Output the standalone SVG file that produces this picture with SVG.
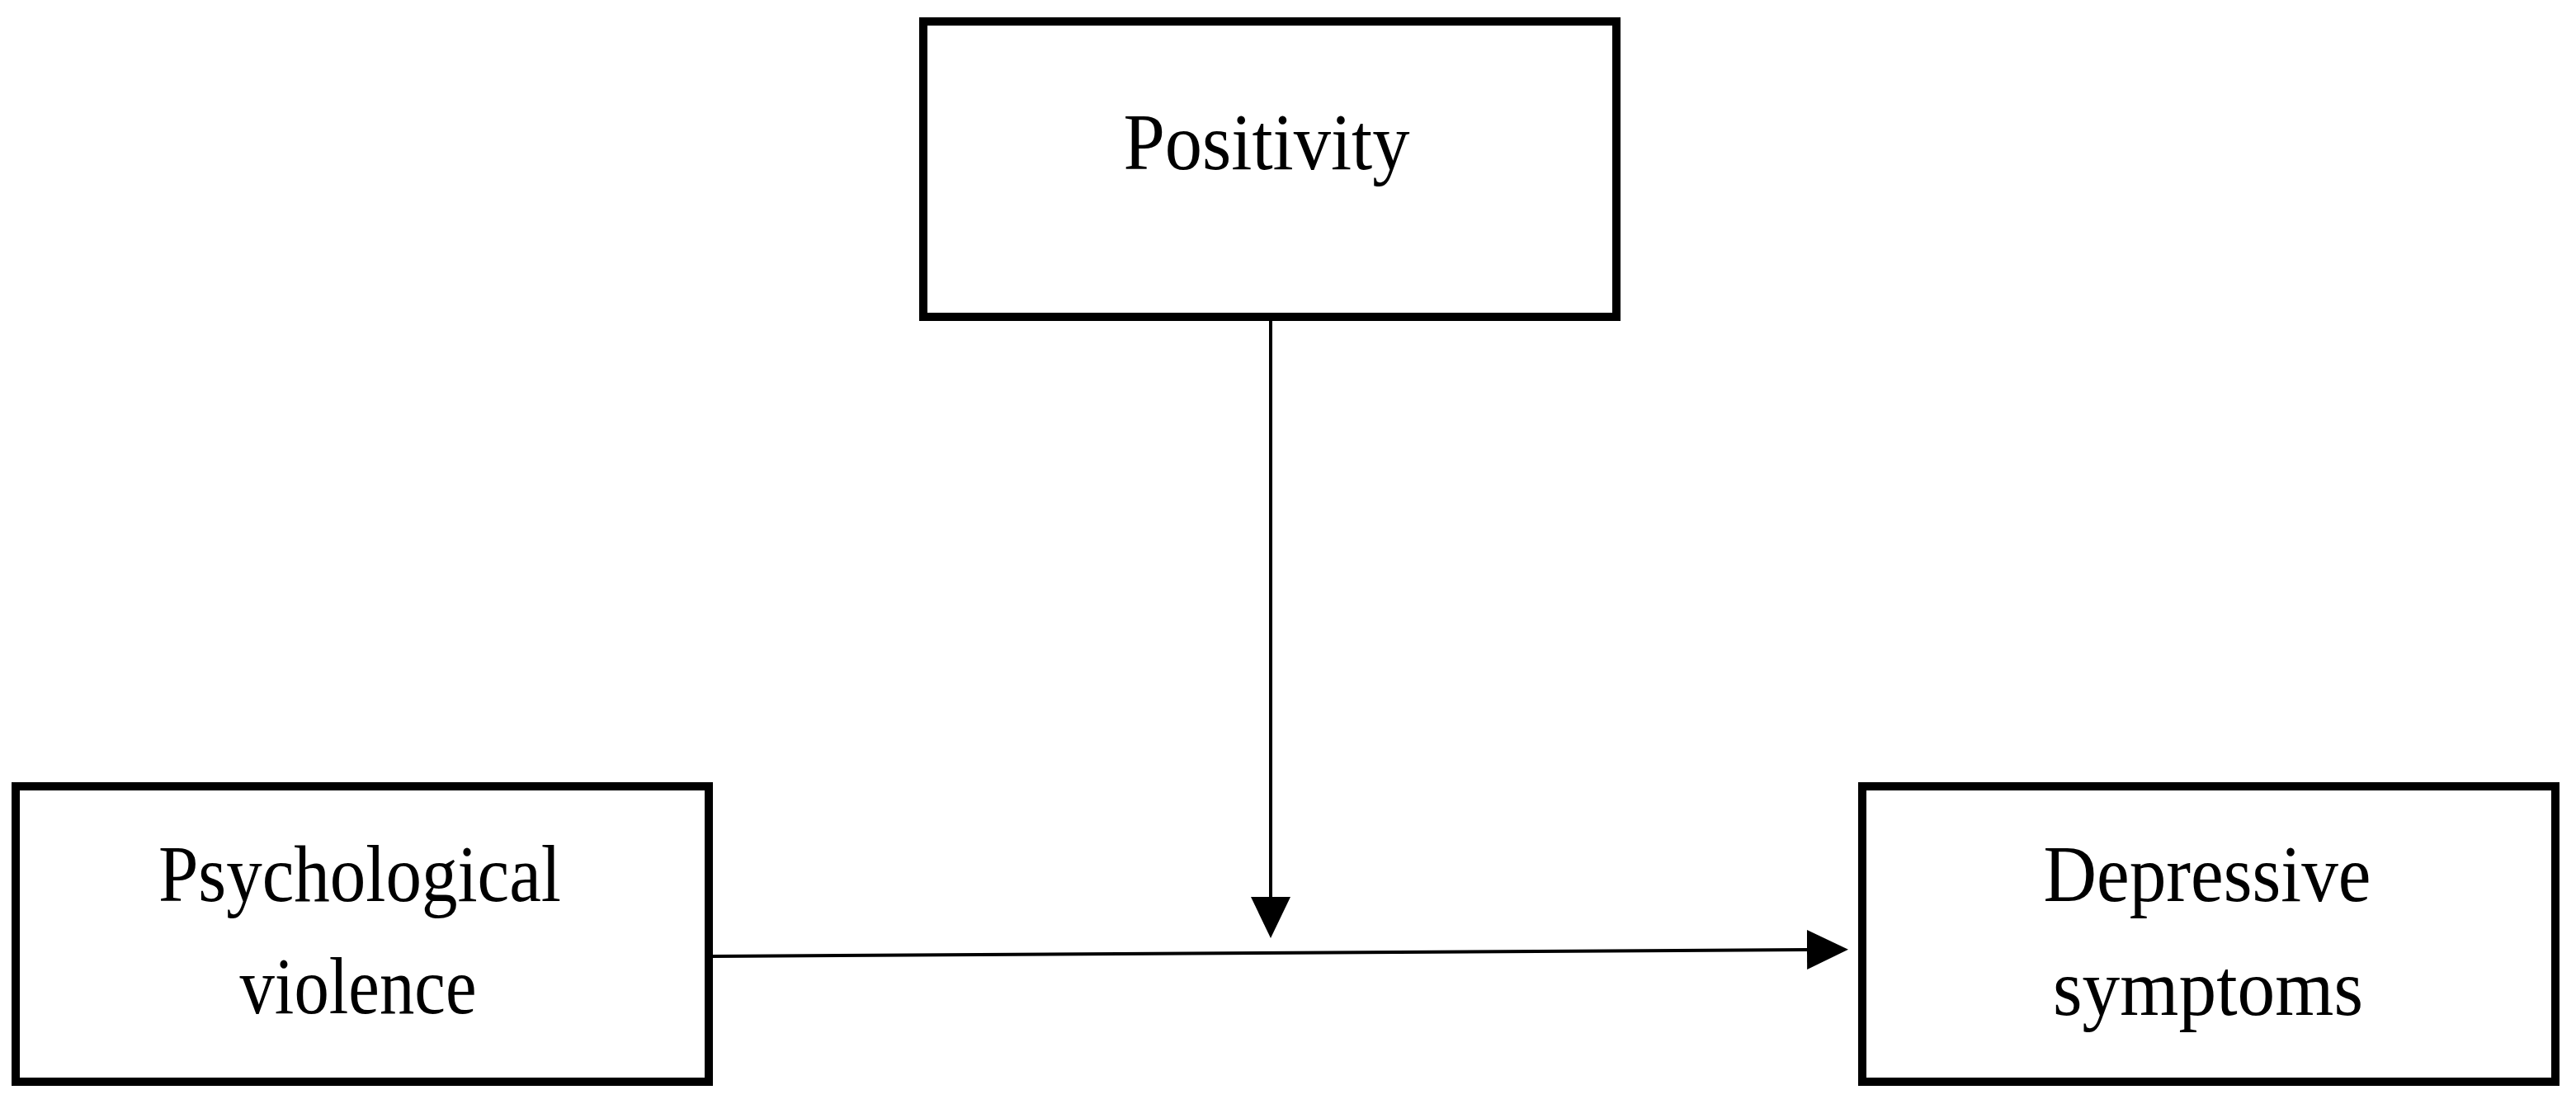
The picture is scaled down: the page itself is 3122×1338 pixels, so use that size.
<svg xmlns="http://www.w3.org/2000/svg" width="3122" height="1338" viewBox="0 0 3122 1338">
<style>
.box{fill:#fff;stroke:#000;stroke-width:10}
.lbl{font-family:"Liberation Serif","Times New Roman",serif;font-size:98px;fill:#000;text-anchor:middle}
.conn{stroke:#000;stroke-width:4;fill:none}
</style>
<defs>
<marker id="ah" markerUnits="userSpaceOnUse" markerWidth="50" markerHeight="48" refX="0" refY="24" orient="auto" viewBox="0 0 50 48">
<path d="M0,0 L50,24 L0,48 z" fill="#000"/>
</marker>
</defs>
<rect width="3122" height="1338" fill="#fff"/>
<g id="connectors">
<line class="conn" x1="1540" y1="389" x2="1540" y2="1087" marker-end="url(#ah)"/>
<line class="conn" x1="864" y1="1159" x2="2190" y2="1151" marker-end="url(#ah)"/>
</g>
<g id="node-positivity">
<rect class="box" x="1119" y="26" width="840" height="358"/>
<text class="lbl" x="1535" y="205" textLength="347" lengthAdjust="spacingAndGlyphs">Positivity</text>
</g>
<g id="node-psychological-violence">
<rect class="box" x="19" y="953" width="840" height="358"/>
<text class="lbl" x="436" y="1092" textLength="488" lengthAdjust="spacingAndGlyphs">Psychological</text>
<text class="lbl" x="434" y="1228" textLength="287" lengthAdjust="spacingAndGlyphs">violence</text>
</g>
<g id="node-depressive-symptoms">
<rect class="box" x="2257" y="953" width="840" height="358"/>
<text class="lbl" x="2675" y="1092" textLength="397" lengthAdjust="spacingAndGlyphs">Depressive</text>
<text class="lbl" x="2676" y="1230" textLength="376" lengthAdjust="spacingAndGlyphs">symptoms</text>
</g>
</svg>
